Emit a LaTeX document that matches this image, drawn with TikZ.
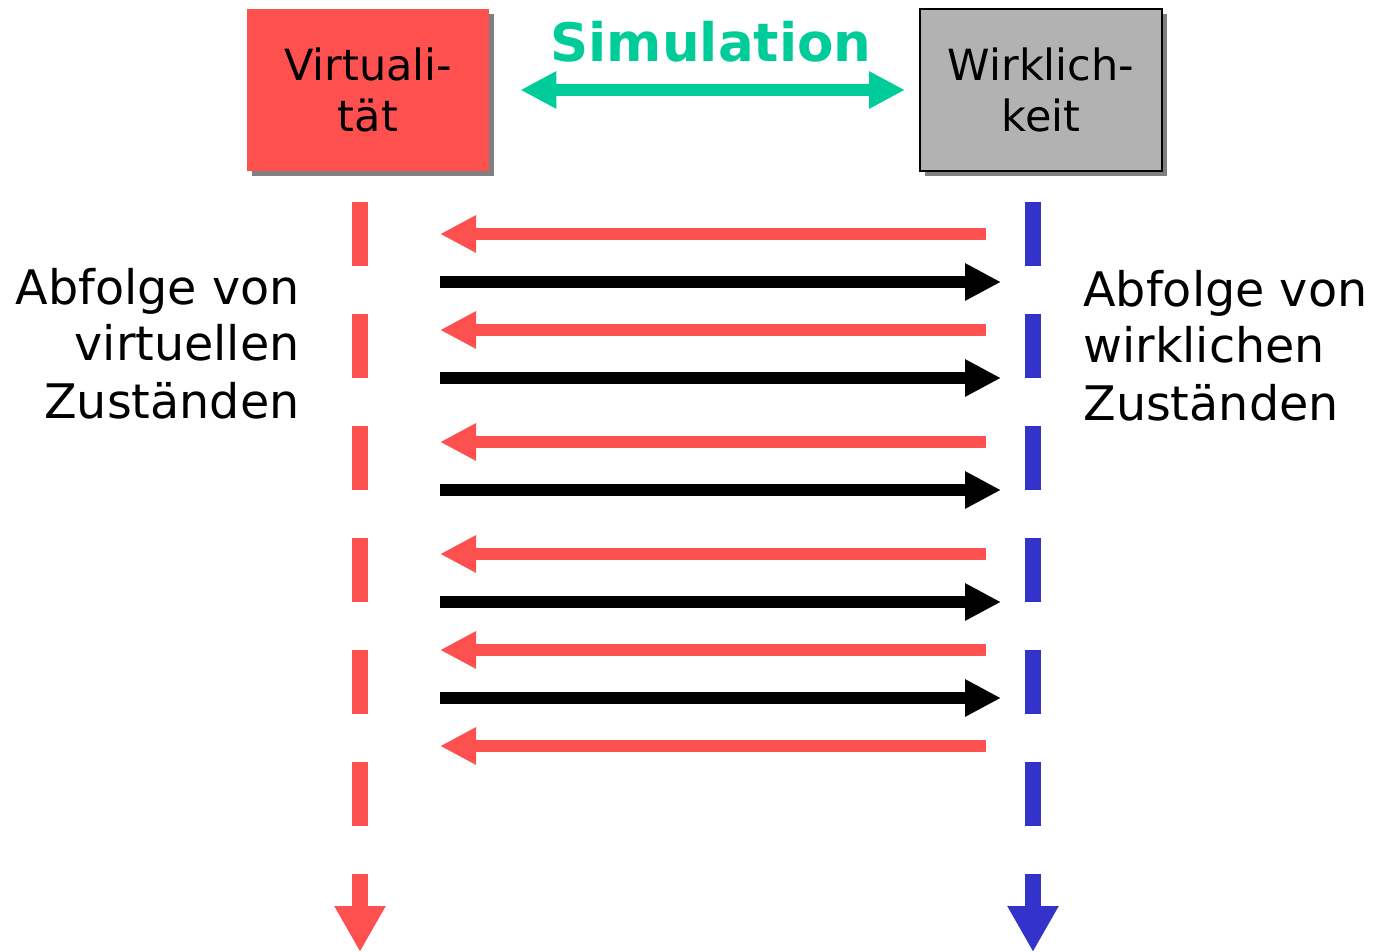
\documentclass[tikz,border=0pt]{standalone}
\usepackage{fontspec}
\setmainfont{DejaVu Sans}
\usepackage{tikz}
\usetikzlibrary{arrows.meta,shadows}
\definecolor{simred}{RGB}{255,80,80}
\definecolor{simgray}{RGB}{178,178,178}
\definecolor{simgreen}{RGB}{0,204,153}
\definecolor{simblue}{RGB}{51,51,204}
\tikzstyle{statebox} = [rectangle, minimum width=121pt, minimum height=81pt,
    inner sep=0pt, align=center, font=\fontsize{21.5}{25.5}\selectfont,
    drop shadow={shadow xshift=2.5pt, shadow yshift=-2.5pt, fill=black!50, opacity=1}]
\tikzstyle{sidetext} = [inner sep=0pt, font=\fontsize{23.8}{28.5}\selectfont]
\tikzstyle{timeline} = [line width=8pt, dash pattern=on 32pt off 24pt,
    -{Triangle[length=23pt,width=24pt]}]
\tikzstyle{msgarrow} = [line width=6pt, -{Triangle[length=18pt,width=17.5pt]}]

\begin{document}
\begin{tikzpicture}[x=0.5pt,y=-0.5pt]
                \useasboundingbox (0,0) rectangle (1382,952);
                \node[statebox, fill=simred] (virt) at (368,90) {Virtuali-\\tät};
                \node[statebox, fill=simgray, draw=black, line width=1pt] (wirk) at (1041,90) {Wirklich-\\keit};
                \node[font=\fontsize{26.5}{30}\selectfont\bfseries, text=simgreen, anchor=base] (sim) at (711,62) {Simulation};
                \draw[line width=6pt, simgreen, {Triangle[length=18pt,width=17.5pt]}-{Triangle[length=18pt,width=17.5pt]},
                    shorten <=15.5pt, shorten >=7pt] (virt) -- (wirk);
                \node[sidetext, align=right, anchor=base east] (vseq) at (300,418) {Abfolge von\\virtuellen\\Zuständen};
                \node[sidetext, align=left, anchor=base west] (wseq) at (1083,420) {Abfolge von\\wirklichen\\Zuständen};
                \coordinate (vstart) at (360,202);
                \coordinate (vend) at (360,952);
                \coordinate (wstart) at (1033,202);
                \coordinate (wend) at (1033,952);
                \draw[timeline, simred] (vstart) -- (vend);
                \draw[timeline, simblue] (wstart) -- (wend);
                \foreach \y [count=\i] in {234,330,442,554,650,746} {
                    \coordinate (rs\i) at (986,\y);
                    \coordinate (re\i) at (440,\y);
                    \draw[msgarrow, simred] (rs\i) -- (re\i);
                }
                \foreach \y [count=\i] in {282,378,490,602,698} {
                    \coordinate (bs\i) at (440,\y);
                    \coordinate (be\i) at (1001,\y);
                    \draw[msgarrow, black] (bs\i) -- (be\i);
                }
            \end{tikzpicture}
\end{document}
